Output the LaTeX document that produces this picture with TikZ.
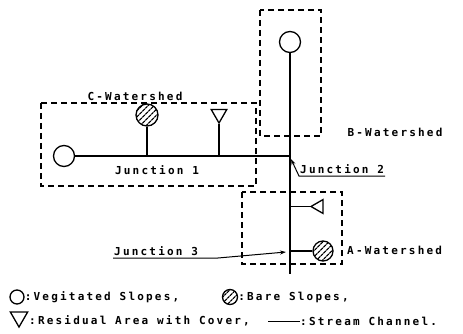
\documentclass[tikz,border=0pt]{standalone}
\usepackage{fontspec}
\newfontfamily\typefont[LetterSpace=20]{DejaVu Sans Mono}
\usetikzlibrary{arrows.meta,patterns.meta,shapes.geometric}

\begin{document}
\begin{tikzpicture}[x=1pt,y=-1pt,
  stream/.style={line width=1.7pt},
  shed/.style={line width=1.2pt,dash pattern=on 6pt off 4pt},
  veg/.style={circle,draw,line width=1.3pt,inner sep=0pt},
  bare/.style={circle,draw,line width=1.3pt,inner sep=0pt,
    pattern={Lines[angle=45,distance=4pt,line width=1.3pt]}},
  resid/.style={regular polygon,regular polygon sides=3,draw,line width=1.3pt,inner sep=0pt},
  lbl/.style={font=\typefont\bfseries\fontsize{11}{13}\selectfont,inner sep=1pt},
  pointer/.style={line width=1pt,-{Stealth[length=6pt,width=4pt]}}]
  \useasboundingbox (0,0) rectangle (463,334);
  % Watershed boundaries
  \draw[shed] (41,103) rectangle (256,186);
  \draw[shed] (260,10) rectangle (321,136);
  \draw[shed] (242,192) rectangle (342,264);
  % Slopes
  \node[veg,minimum size=21pt] (cveg) at (64,156) {};
  \node[bare,minimum size=22pt] (cbare) at (147,115) {};
  \node[resid,minimum size=18pt,shape border rotate=180] (cres) at (219,114) {};
  \node[veg,minimum size=21pt] (bveg) at (290,42) {};
  \node[resid,minimum size=16pt,shape border rotate=90] (ares) at (319,206.5) {};
  \node[bare,minimum size=20pt] (abare) at (323,251) {};
  % Junctions and outlet
  \coordinate (j2) at (290,156);
  \coordinate (j3) at (290,251);
  \coordinate (outlet) at (290,274);
  \coordinate (j2tip) at (291,159);
  \coordinate (j3tip) at (286,252);
  \coordinate (bend3) at (218,258);
  % Stream channels
  \draw[stream] (cveg) -- (j2);
  \draw[stream] (bveg) -- (outlet);
  \draw[stream] (cbare) -- (cbare |- cveg);
  \draw[stream] (cres.corner 1) -- (cres.corner 1 |- cveg);
  \draw[stream] (ares.corner 1) -- (ares.corner 1 -| j2);
  \draw[stream] (abare) -- (abare -| j2);
  % Labels
  \node[lbl] (cname) at (135,96) {C-Watershed};
  \node[lbl] (jn1) at (157,170) {Junction 1};
  \node[lbl] (bname) at (395,132) {B-Watershed};
  \node[lbl,anchor=west] (aname) at (346,250) {A-Watershed};
  \node[lbl,anchor=south west,inner ysep=2pt] (jn2) at (299,176) {Junction 2};
  \draw[pointer] (jn2.south east) -- (jn2.south west) -- (j2tip);
  \node[lbl,anchor=south west,inner ysep=2pt] (jn3) at (113,258) {Junction 3};
  \draw[pointer] (jn3.south west) -- (bend3) -- (j3tip);
  % Legend
  \node[veg,minimum size=14pt] (kveg) at (17,297) {};
  \node[lbl,anchor=west,inner sep=0pt] (tveg) at (kveg.east) {:Vegitated Slopes,};
  \node[bare,minimum size=15pt] (kbare) at (230,297) {};
  \node[lbl,anchor=west,inner sep=0pt] (tbare) at (kbare.east) {:Bare Slopes,};
  \node[resid,minimum size=20pt,shape border rotate=180] (kres) at (19,317) {};
  \node[lbl,anchor=west,inner sep=0pt] (tres) at (29,321) {:Residual Area with Cover,};
  \coordinate (kstream) at (268,321);
  \node[lbl,anchor=west,inner sep=0pt] (tstream) at (300,321) {:Stream Channel.};
  \draw[line width=1pt] (kstream) -- (tstream.west);
\end{tikzpicture}
\end{document}
